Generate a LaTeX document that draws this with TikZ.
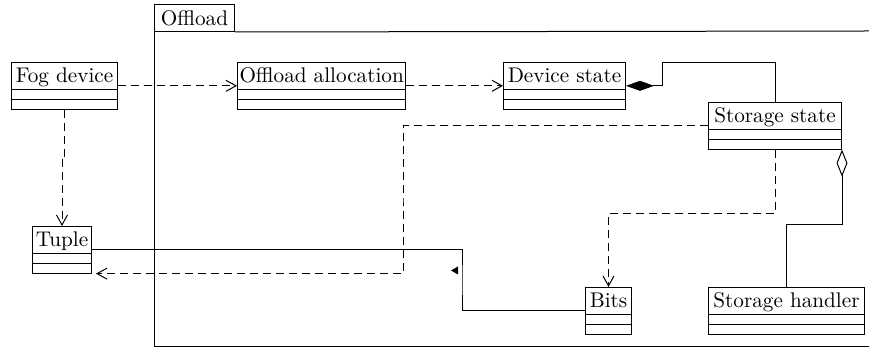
\documentclass[tikz,border=0pt]{standalone}
\usetikzlibrary{shapes.multipart,arrows.meta}

\begin{document}
\begin{tikzpicture}[
    x=0.5pt, y=-0.5pt,
    line width=0.5pt,
    font=\fontsize{10.6}{12}\selectfont,
    classe/.style={draw, rectangle split, rectangle split parts=3,
      anchor=north west, inner xsep=1pt, inner ysep=0pt,
      rectangle split empty part height=3.2pt,
      rectangle split empty part depth=0pt,
      execute at begin node={\rule[-3.3pt]{0pt}{13.2pt}}},
    dipende/.style={dash pattern=on 4pt off 2.5pt,
      -{Straight Barb[length=5pt,width=5.5pt]}},
    composiz/.style={{Diamond[length=14pt,width=5pt]}-},
    aggreg/.style={{Diamond[open,length=13.5pt,width=5.5pt]}-}]

  \useasboundingbox (0,0) rectangle (869,351);

  % ---- il frame Offload ------------------------------------------------------
  \node[draw, anchor=north west, minimum width=40pt, minimum height=13.5pt,
        inner sep=2pt] (tab) at (154,4) {Offload};
  \draw (tab.south west) -- (154,347) -- (869,347);
  \draw (tab.south east) -- (869,31);

  % ---- le classi -------------------------------------------------------------
  \node[classe, minimum width=53pt]   (fog)   at (11,62)   {Fog device};
  \node[classe, minimum width=83.5pt] (alloc) at (237,62)  {Offload allocation};
  \node[classe, minimum width=61pt]   (dev)   at (503,62)  {Device state};
  \node[classe, minimum width=66.5pt] (stor)  at (708,102) {Storage state};
  \node[classe, minimum width=29.5pt] (tuple) at (32,226)  {Tuple};
  \node[classe, minimum width=23pt]   (bits)  at (585,287) {Bits};
  \node[classe, minimum width=78pt]   (hand)  at (708,287) {Storage handler};

  % ---- punti di gomito -------------------------------------------------------
  \coordinate (gomA) at (662,63);
  \coordinate (gomB) at (403,200);
  \coordinate (gomC) at (462,280);

  % ---- dipendenze ------------------------------------------------------------
  \draw[dipende] (fog.east) -- (alloc.west);
  \draw[dipende] (alloc.east) -- (dev.west);
  \draw[dipende] (fog.south) -- ++(0,47) -| (tuple.north);
  \draw[dipende] (stor.south) -- ++(0,64) -| (bits.north);
  \draw[dipende, shorten >=2pt] (stor.west) -| (gomB) |- (tuple.south east);

  % ---- composizione, aggregazione, associazione ------------------------------
  \draw[composiz] (dev.east) -| (gomA) -| (stor.north);
  \draw[aggreg] (stor.south east) -- ++(0,75) -| (hand.north);
  \draw (tuple.east) -| (gomC) |- (bits.west);
  \fill (458,266.5) -- (458,274.5) -- (451,270.5) -- cycle;   % verso

\end{tikzpicture}
\end{document}
